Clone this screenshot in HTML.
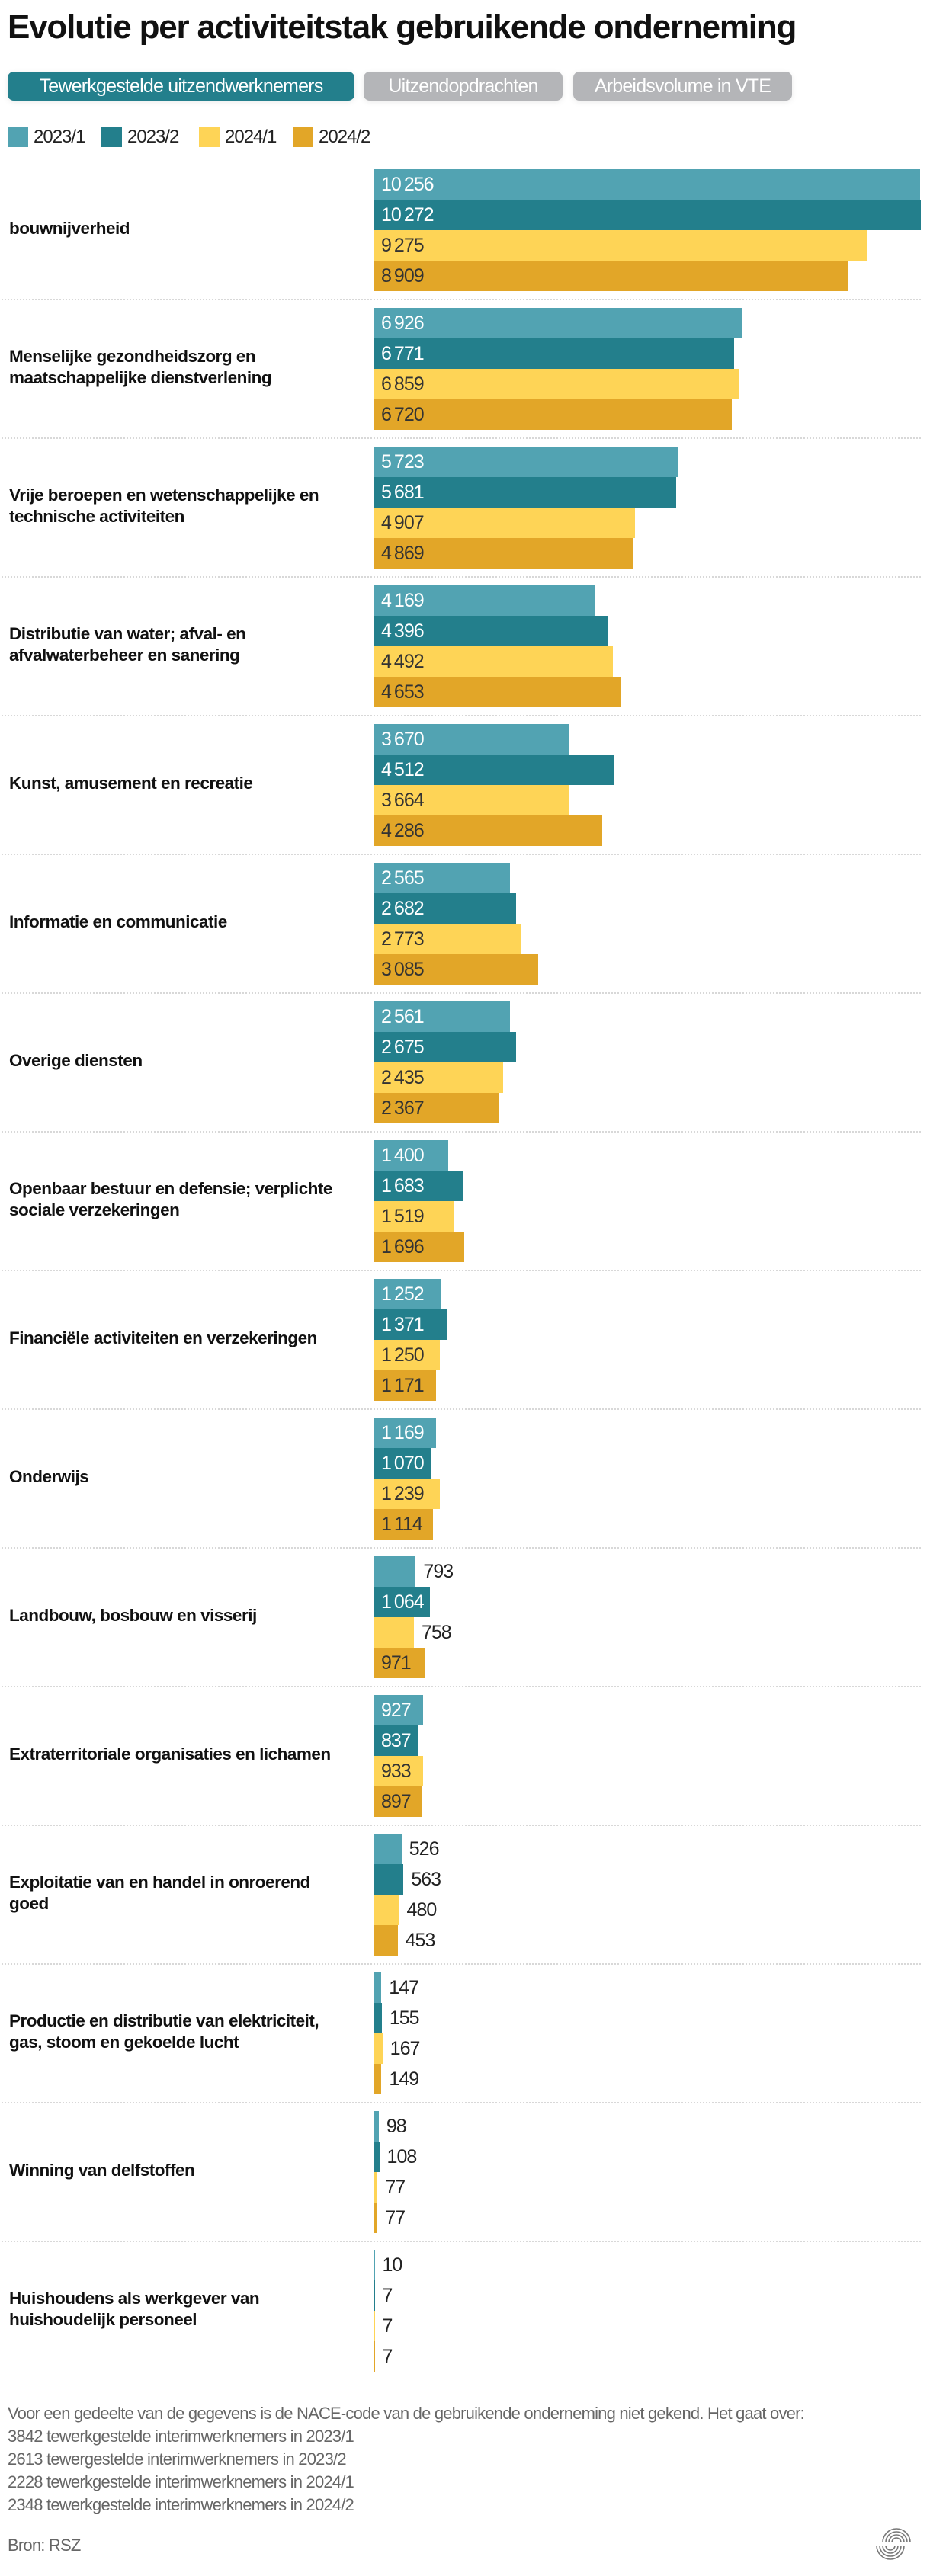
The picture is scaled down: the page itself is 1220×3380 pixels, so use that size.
<!DOCTYPE html>
<html><head><meta charset="utf-8">
<style>
html,body{margin:0;padding:0;background:#fff;}
body{width:1220px;height:3380px;position:relative;overflow:hidden;font-family:"Liberation Sans",sans-serif;}
.abs{position:absolute;}
#title{left:10px;top:11px;font-size:44px;font-weight:bold;letter-spacing:-1.2px;color:#111;white-space:nowrap;}
.tab{top:94px;height:38px;border-radius:8px;color:#fff;font-size:25px;line-height:38px;text-align:center;letter-spacing:-0.8px;box-shadow:0 2px 8px rgba(0,0,0,0.08);}
.leg-sq{top:166px;width:27px;height:27px;}
.leg-tx{top:166px;font-size:24px;line-height:27px;color:#222;letter-spacing:-1px;}
.cat{left:12px;font-size:22.5px;font-weight:bold;color:#111;line-height:28px;letter-spacing:-0.5px;}
.bar{height:40px;}
.val{font-size:25px;line-height:40px;letter-spacing:-1px;white-space:nowrap;}
.sep{left:2px;width:1206px;height:0;border-top:2px dotted #d8d8d8;}
.foot{left:10px;font-size:22px;color:#666;letter-spacing:-0.8px;line-height:30px;}
</style></head><body>
<div id="title" class="abs">Evolutie per activiteitstak gebruikende onderneming</div>
<div class="abs tab" style="left:10px;width:455px;background:#237f8c;">Tewerkgestelde uitzendwerknemers</div>
<div class="abs tab" style="left:477px;width:261px;background:#b4b5b8;">Uitzendopdrachten</div>
<div class="abs tab" style="left:752px;width:287px;background:#b4b5b8;">Arbeidsvolume in VTE</div>

<div class="abs leg-sq" style="left:10px;background:#52a3b2;"></div>
<div class="abs leg-tx" style="left:44px;">2023/1</div>
<div class="abs leg-sq" style="left:133px;background:#237f8c;"></div>
<div class="abs leg-tx" style="left:167px;">2023/2</div>
<div class="abs leg-sq" style="left:261px;background:#fed456;"></div>
<div class="abs leg-tx" style="left:295px;">2024/1</div>
<div class="abs leg-sq" style="left:384px;background:#e2a628;"></div>
<div class="abs leg-tx" style="left:418px;">2024/2</div>

<div id="chart" class="abs" style="left:0;top:0;width:1220px;height:3380px;"></div>

<div class="abs foot" style="top:3152px;">Voor een gedeelte van de gegevens is de NACE-code van de gebruikende onderneming niet gekend. Het gaat over:<br>3842 tewerkgestelde interimwerknemers in 2023/1<br>2613 tewergestelde interimwerknemers in 2023/2<br>2228 tewerkgestelde interimwerknemers in 2024/1<br>2348 tewerkgestelde interimwerknemers in 2024/2</div>
<div class="abs foot" style="top:3325px;">Bron: RSZ</div>
<svg class="abs" style="left:1148px;top:3310px;" width="56" height="56" viewBox="0 0 56 56">
<g fill="none" stroke="#777" stroke-width="1.6">
<path d="M10 26 A18 18 0 0 1 46 26"/><path d="M14 26 A14 14 0 0 1 42 26"/><path d="M18 26 A10 10 0 0 1 38 26"/><path d="M22 26 A6 6 0 0 1 34 26"/>
<path d="M2 30 A18 18 0 0 0 38 30"/><path d="M6 30 A14 14 0 0 0 34 30"/><path d="M10 30 A10 10 0 0 0 30 30"/><path d="M14 30 A6 6 0 0 0 26 30"/>
</g></svg>

<script>
const categories = [
 "bouwnijverheid",
 "Menselijke gezondheidszorg en\nmaatschappelijke dienstverlening",
 "Vrije beroepen en wetenschappelijke en\ntechnische activiteiten",
 "Distributie van water; afval- en\nafvalwaterbeheer en sanering",
 "Kunst, amusement en recreatie",
 "Informatie en communicatie",
 "Overige diensten",
 "Openbaar bestuur en defensie; verplichte\nsociale verzekeringen",
 "Financiële activiteiten en verzekeringen",
 "Onderwijs",
 "Landbouw, bosbouw en visserij",
 "Extraterritoriale organisaties en lichamen",
 "Exploitatie van en handel in onroerend\ngoed",
 "Productie en distributie van elektriciteit,\ngas, stoom en gekoelde lucht",
 "Winning van delfstoffen",
 "Huishoudens als werkgever van\nhuishoudelijk personeel"
];
const seriesNames = ["2023/1","2023/2","2024/1","2024/2"];
const s2023_1 = [10256,6926,5723,4169,3670,2565,2561,1400,1252,1169,793,927,526,147,98,10];
const s2023_2 = [10272,6771,5681,4396,4512,2682,2675,1683,1371,1070,1064,837,563,155,108,7];
const s2024_1 = [9275,6859,4907,4492,3664,2773,2435,1519,1250,1239,758,933,480,167,77,7];
const s2024_2 = [8909,6720,4869,4653,4286,3085,2367,1696,1171,1114,971,897,453,149,77,7];
const series = [s2023_1,s2023_2,s2024_1,s2024_2];
const colors = ["#52a3b2","#237f8c","#fed456","#e2a628"];
const textIn = ["#fff","#fff","#333","#333"];

const X0 = 490, XMAX = 1208, DMAX = 10272;
const TOP = 222, PITCH = 182, BH = 40;
function xs(v){ return v/DMAX*(XMAX-X0); }
function fmt(v){ const s=String(v); return s.length>3 ? s.slice(0,-3)+"\u2009"+s.slice(-3) : s; }

const chart = document.getElementById('chart');
categories.forEach((cat,i)=>{
  const gy = TOP + i*PITCH;
  const lab = document.createElement('div');
  lab.className='abs cat';
  
  
  const lines = cat.split("\n");
  lab.innerHTML = lines.join("<br>");
  lab.style.top = (gy + 80 - lines.length*14 - 2) + 'px';
  chart.appendChild(lab);
  series.forEach((s,j)=>{
    const v = s[i];
    const w = Math.max(xs(v),1.5);
    const b = document.createElement('div');
    b.className='abs bar';
    
    
    b.style.left = X0+'px'; b.style.top = (gy+j*BH)+'px';
    b.style.width = w+'px'; b.style.background = colors[j];
    chart.appendChild(b);
    const t = document.createElement('div');
    t.className='abs val';
    
    
    t.textContent = fmt(v);
    t.style.top = (gy+j*BH)+'px';
    if (w >= 57) { t.style.left=(X0+10)+'px'; t.style.color=textIn[j]; }
    else { t.style.left=(X0+w+10)+'px'; t.style.color='#222'; }
    chart.appendChild(t);
  });
  if (i < categories.length-1) {
    const sp = document.createElement('div');
    sp.className='abs sep';
    
    
    sp.style.top = (gy+170)+'px';
    chart.appendChild(sp);
  }
});
</script>
</body></html>
